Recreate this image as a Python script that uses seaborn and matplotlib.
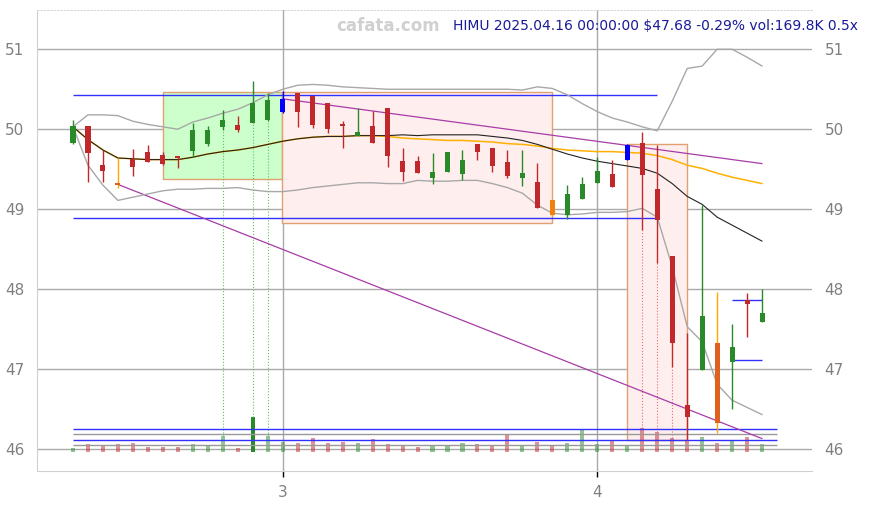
import numpy as np
import pandas as pd
import matplotlib
matplotlib.use('Agg')
import matplotlib.pyplot as plt
from matplotlib.patches import Rectangle
import seaborn as sns

# daily candles, Feb 10 .. Apr 16 2025 (index 0..46)
opens = [49.83, 50.04, 49.55, 49.33, 49.63, 49.72, 49.68, 49.67, 49.73, 49.81,
         50.03, 50.05, 50.08, 50.11, 50.21, 50.45, 50.41, 50.33, 50.05, 49.91,
         50.04, 50.26, 49.60, 49.60, 49.39, 49.47, 49.44, 49.81, 49.76, 49.59,
         49.39, 49.34, 49.11, 48.93, 49.13, 49.33, 49.44, 49.62, 49.83, 49.25,
         48.42, 46.55, 46.99, 47.33, 47.09, 47.87, 47.59]
highs = [50.11, 50.04, 49.74, 49.64, 49.75, 49.80, 49.72, 49.67, 50.08, 50.04,
         50.24, 50.16, 50.60, 50.45, 50.48, 50.45, 50.41, 50.33, 50.10, 50.26,
         50.23, 50.26, 49.76, 49.67, 49.70, 49.71, 49.74, 49.81, 49.76, 49.74,
         49.74, 49.58, 49.12, 49.30, 49.40, 49.65, 49.61, 49.82, 49.97, 49.80,
         48.42, 47.45, 49.05, 47.97, 47.56, 47.95, 48.00]
lows = [49.82, 49.34, 49.34, 49.26, 49.42, 49.59, 49.55, 49.52, 49.65, 49.79,
        49.99, 49.97, 50.08, 50.10, 50.20, 50.03, 50.02, 49.95, 49.77, 49.91,
        49.83, 49.53, 49.35, 49.45, 49.32, 49.47, 49.37, 49.61, 49.47, 49.39,
        49.29, 49.02, 48.92, 48.88, 49.13, 49.33, 49.28, 49.61, 48.74, 48.33,
        47.02, 46.11, 46.99, 46.20, 46.50, 47.40, 47.59]
closes = [50.04, 49.70, 49.48, 49.30, 49.53, 49.59, 49.56, 49.64, 49.99, 49.99,
          50.11, 49.99, 50.33, 50.37, 50.38, 50.22, 50.05, 50.00, 50.04, 49.96,
          49.83, 49.66, 49.47, 49.45, 49.46, 49.71, 49.61, 49.72, 49.54, 49.41,
          49.45, 49.02, 48.93, 49.19, 49.31, 49.48, 49.28, 49.80, 49.43, 48.87,
          47.33, 46.40, 47.67, 46.33, 47.27, 47.81, 47.70]
# volume in thousands
volumes = [81, 169, 147, 169, 191, 103, 103, 103, 169, 132,
           345, 81, 763, 345, 213, 191, 301, 191, 213, 191,
           279, 169, 132, 103, 147, 147, 191, 169, 147, 389,
           147, 213, 147, 191, 477, 169, 257, 125, 515, 433,
           301, 257, 323, 191, 235, 323, 170]

ma_black = [50.03, 49.87, 49.74, 49.64, 49.63, 49.62, 49.62, 49.62, 49.65, 49.69,
            49.72, 49.74, 49.77, 49.81, 49.85, 49.88, 49.90, 49.91, 49.91, 49.92,
            49.92, 49.92, 49.93, 49.92, 49.93, 49.93, 49.93, 49.93, 49.91, 49.89,
            49.86, 49.81, 49.75, 49.69, 49.64, 49.60, 49.57, 49.54, 49.51, 49.45,
            49.32, 49.16, 49.06, 48.90, 48.80, 48.70, 48.60]
ma_orange = [50.03, 49.87, 49.74, 49.64, 49.63, 49.62, 49.62, 49.62, 49.65, 49.69,
             49.72, 49.74, 49.77, 49.81, 49.85, 49.88, 49.90, 49.91, 49.91, 49.92,
             49.92, 49.91, 49.89, 49.88, 49.87, 49.86, 49.86, 49.85, 49.84, 49.82,
             49.81, 49.79, 49.76, 49.74, 49.73, 49.72, 49.72, 49.71, 49.70, 49.67,
             49.62, 49.55, 49.51, 49.45, 49.40, 49.36, 49.32]
band_upper = [50.03, 50.18, 50.18, 50.17, 50.10, 50.06, 50.03, 50.00, 50.09, 50.14,
              50.20, 50.25, 50.33, 50.43, 50.50, 50.55, 50.56, 50.55, 50.53, 50.52,
              50.51, 50.50, 50.50, 50.50, 50.50, 50.50, 50.50, 50.50, 50.50, 50.50,
              50.49, 50.53, 50.51, 50.43, 50.32, 50.22, 50.14, 50.09, 50.03, 49.98,
              50.35, 50.76, 50.79, 51.00, 51.00, 50.90, 50.79]
band_lower = [50.03, 49.55, 49.30, 49.11, 49.15, 49.19, 49.23, 49.25, 49.25, 49.26,
              49.26, 49.27, 49.24, 49.22, 49.22, 49.24, 49.27, 49.29, 49.31, 49.33,
              49.33, 49.32, 49.32, 49.36, 49.35, 49.35, 49.36, 49.36, 49.32, 49.27,
              49.20, 49.05, 48.95, 48.93, 48.94, 48.96, 48.96, 48.97, 49.01, 48.90,
              48.28, 47.53, 47.34, 46.81, 46.61, 46.52, 46.43]

blue_candles = [14, 37]
orange_candles = [3, 32, 43]
green_marks = [10, 12, 13]
red_marks = [38, 39, 40]
month_ticks = [14, 35]
month_labels = ['3', '4']
title = 'HIMU 2025.04.16 00:00:00 $47.68 -0.29% vol:169.8K 0.5x'

df = pd.DataFrame({'i': np.arange(len(opens)), 'open': opens, 'high': highs,
                   'low': lows, 'close': closes, 'vol': volumes,
                   'ma1': ma_black, 'ma2': ma_orange,
                   'up': band_upper, 'dn': band_lower})

sns.set_style('white')
fig = plt.figure(figsize=(8.69, 5.05), dpi=100)
ax = fig.add_axes([0.0426, 0.0673, 0.8918, 0.9127])

RED = '#c0282c'
GREEN = '#2a8a2a'

# zones
ax.add_patch(Rectangle((6, 49.38), 7.95, 50.47 - 49.38, facecolor='#ccffcc',
                       edgecolor='#e0a070', lw=1, zorder=1))
ax.add_patch(Rectangle((13.95, 48.83), 18.05, 50.47 - 48.83, facecolor='#ffeeee',
                       edgecolor='#e0a070', lw=1, zorder=1))
ax.add_patch(Rectangle((37, 46.11), 4, 49.82 - 46.11, facecolor='#ffeeee',
                       edgecolor='#e0a070', lw=1, zorder=1))

# levels
ax.hlines([50.43, 48.885], 0, 39, color='#3030ff', lw=1, zorder=3)
ax.hlines([47.86, 47.11], 44, 46, color='#3030ff', lw=1, zorder=3)
ax.hlines([46.246, 46.109], 0, 47, color='#3030ff', lw=1, zorder=3)
ax.hlines([46.184, 46.046], 0, 47, color='#999999', lw=1, zorder=3)

# trend lines
ax.plot([3, 46], [49.31, 46.13], color='#a83ca8', lw=0.9, zorder=3)
ax.plot([14, 46], [50.38, 49.57], color='#a83ca8', lw=0.9, zorder=3)

# bands and averages
sns.lineplot(data=df, x='i', y='up', color='#a8a8a8', lw=1, ax=ax, zorder=3)
sns.lineplot(data=df, x='i', y='dn', color='#a8a8a8', lw=1, ax=ax, zorder=3)
sns.lineplot(data=df, x='i', y='ma2', color='#ffb000', lw=1.1, ax=ax, zorder=3)
sns.lineplot(data=df, x='i', y='ma1', color='#222222', lw=0.8, ax=ax, zorder=3)

# volume bars on the price axis
vbase = 45.966
vscale = 0.434 / max(volumes)
for r in df.itertuples():
    up = r.close >= r.open
    col = GREEN if up else RED
    alpha = 1.0 if r.vol == max(volumes) else 0.5
    vtop = vbase + r.vol * vscale
    ax.bar(r.i, r.vol * vscale, bottom=vbase, width=0.27, color=col,
           alpha=alpha, lw=0, zorder=2)
    if r.i in green_marks:
        ax.vlines(r.i, vtop, r.low, color='#60c060', lw=0.8, ls=':', zorder=2)
    if r.i in red_marks:
        ax.vlines(r.i, vtop, r.low, color='#e07070', lw=0.8, ls=':', zorder=2)

# candles
for r in df.itertuples():
    col = GREEN if r.close >= r.open else RED
    wick = col
    if r.i in blue_candles:
        col = wick = '#0000ff'
    if r.i in orange_candles:
        wick = '#ffa500'
        col = '#e06020' if r.i != 32 else '#f08010'
    ax.vlines(r.i, r.low, r.high, color=wick, lw=1, zorder=4)
    body = max(abs(r.close - r.open), 0.02)
    ax.bar(r.i, body, bottom=min(r.open, r.close), width=0.34, color=col,
           lw=0, zorder=5)

ax.set_xlim(-2.4, 49.33)
ax.set_ylim(45.725, 51.49)
ax.set_xticks(month_ticks)
ax.set_xticklabels(month_labels)
ax.set_yticks([46, 47, 48, 49, 50, 51])
ax.set_xlabel('')
ax.set_ylabel('')
ax.grid(True, color='#aaaaaa', lw=1)
ax.set_axisbelow(True)
ax.tick_params(axis='y', length=0, labelsize=11, labelcolor='#808080',
               labelright=True, pad=9)
ax.tick_params(axis='x', length=4, width=1, color='black', labelsize=11,
               labelcolor='#808080', pad=6, bottom=True)
for s in ['left', 'bottom']:
    ax.spines[s].set_color('#d0d0d0')
ax.spines['right'].set_visible(False)
ax.spines['top'].set_color('#d0d0d0')
ax.spines['top'].set_linestyle((0, (2, 2)))
ax.spines['top'].set_linewidth(0.6)

fig.text(0.447, 0.949, 'cafata.com', fontsize=12, fontweight='bold',
         color='#d0d0d0', ha='center', va='center')
fig.text(0.987, 0.949, title, fontsize=10, color='#1a1a99',
         ha='right', va='center')

fig.savefig('out.png', dpi=100)
